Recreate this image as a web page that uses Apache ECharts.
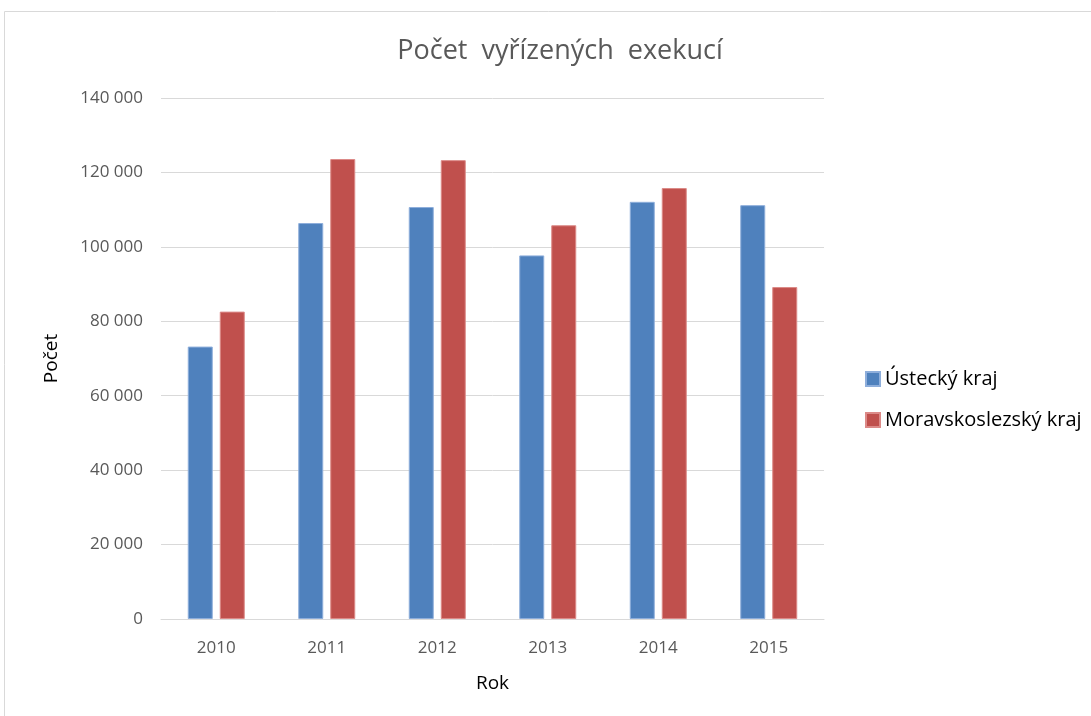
<!DOCTYPE html>
<html>
<head>
<meta charset="utf-8">
<script src="https://cdn.jsdelivr.net/npm/echarts@6/dist/echarts.min.js"></script>
<style>
  html, body { margin: 0; padding: 0; background: #fff; }
  #chart { width: 1091px; height: 716px; }
</style>
</head>
<body>
<div id="chart"></div>
<script>
const years = ['2010', '2011', '2012', '2013', '2014', '2015'];
const ustecky = [73200, 106400, 110700, 97700, 112100, 111200];
const moravskoslezsky = [82600, 123600, 123300, 105800, 115800, 89200];
const seriesNames = ['Ústecký kraj', 'Moravskoslezský kraj'];

const font = 'Open Sans';

// "80 000" -- mezera mezi tisíci
const fmt = (v) => String(v).replace(/\B(?=(\d{3})+(?!\d))/g, ' ');

const chart = echarts.init(document.getElementById('chart'));
chart.setOption({
  animation: false,
  textStyle: { fontFamily: font },
  graphic: [{
    type: 'rect',
    shape: { x: 4.5, y: 11.5, width: 1200, height: 800 },
    style: { fill: 'none', stroke: '#d9d9d9', lineWidth: 1 },
    silent: true,
  }],
  title: {
    text: 'Počet  vyřízených  exekucí',
    left: 555,
    textAlign: 'center',
    top: 33,
    textStyle: { fontFamily: font, fontSize: 27, fontWeight: 'normal', color: '#595959' },
  },
  legend: {
    orient: 'vertical',
    left: 860,
    top: 364,
    itemWidth: 14,
    itemHeight: 14,
    itemGap: 21,
    icon: 'rect',
    data: seriesNames,
    textStyle: { fontFamily: font, fontSize: 20, color: '#000' },
  },
  grid: { left: 161, right: 267, top: 98, bottom: 97 },
  xAxis: {
    type: 'category',
    data: years,
    name: 'Rok',
    nameLocation: 'middle',
    nameGap: 55,
    nameTextStyle: { fontFamily: font, fontSize: 19, color: '#000' },
    axisTick: { show: false },
    axisLine: { lineStyle: { color: '#d9d9d9' } },
    axisLabel: { fontFamily: font, fontSize: 17, color: '#595959', margin: 21 },
  },
  yAxis: {
    type: 'value',
    min: 0,
    max: 140000,
    interval: 20000,
    name: 'Počet',
    nameLocation: 'middle',
    nameGap: 100,
    nameTextStyle: { fontFamily: font, fontSize: 19, color: '#000' },
    axisLine: { show: false },
    axisTick: { show: false },
    splitLine: { lineStyle: { color: '#d9d9d9' } },
    axisLabel: { fontFamily: font, fontSize: 17, color: '#595959', margin: 18, formatter: fmt },
  },
  series: [{
    name: seriesNames[0],
    type: 'bar',
    data: ustecky,
    barWidth: 25,
    barGap: '28%',
    itemStyle: { color: '#4F81BD', borderColor: '#8eaedb', borderWidth: 1 },
  }, {
    name: seriesNames[1],
    type: 'bar',
    data: moravskoslezsky,
    barWidth: 25,
    itemStyle: { color: '#C0504D', borderColor: '#dc8a88', borderWidth: 1 },
  }],
});
</script>
</body>
</html>
